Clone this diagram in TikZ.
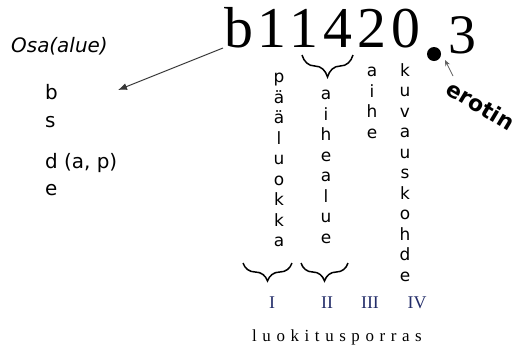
\documentclass[tikz,border=0pt]{standalone}
\usepackage{fontspec}
\setmainfont{Liberation Serif}
\setsansfont{DejaVu Sans}
\usetikzlibrary{arrows.meta,decorations.pathreplacing}
\definecolor{numblue}{RGB}{35,45,105}
\definecolor{arrowgray}{RGB}{55,55,55}
\tikzset{
  listtext/.style={font=\sffamily\fontsize{20}{24}\selectfont, inner sep=0pt, anchor=base west},
  vcol/.style={font=\sffamily\fontsize{17}{20.6}\selectfont, align=center, anchor=north, inner sep=0pt},
  bracestyle/.style={decorate, decoration={brace, amplitude=#1}, line width=1.5bp},
  roman/.style={font=\fontsize{18}{20}\selectfont, text=numblue, anchor=base, inner sep=0pt},
}
\begin{document}
\begin{tikzpicture}[x=1bp,y=-1bp]
\useasboundingbox (0,0) rectangle (516,346);
% main code
\node[anchor=base west, inner sep=0pt, font=\fontsize{58}{60}\selectfont\addfontfeature{LetterSpace=8.5}] (code) at (224,47) {b11420};
\node[circle, fill=black, inner sep=0pt, minimum size=14bp] (dot) at (434,54) {};
\node[anchor=base west, inner sep=0pt, font=\fontsize{56}{60}\selectfont] (three) at (448,53) {3};
% left column
\node[listtext, font=\sffamily\itshape\fontsize{20}{24}\selectfont] (osa) at (11,52) {Osa(alue)};
\node[listtext] (lb) at (45,99) {b};
\node[listtext] (ls) at (45,127) {s};
\node[listtext] (ld) at (45,168) {d (a, p)};
\node[listtext] (le) at (45,195) {e};
% arrow
\coordinate (tipL) at (118,90);
\draw[arrowgray, line width=1bp, -{Latex[length=9bp,width=7bp]}] ([shift={(-1,1)}]code.base west) -- (tipL);
% erotin
\node[anchor=west, rotate=-31, inner sep=0pt, font=\sffamily\bfseries\fontsize{22}{24}\selectfont] (erotin) at (449,86) {erotin};
\coordinate (erstart) at (453,76);
\coordinate (ertip) at (445,60);
\draw[arrowgray!80, line width=0.8bp, -{Stealth[length=6bp,width=5bp]}] (erstart) -- (ertip);
% vertical words
\node[vcol] (c1) at (279,73) {p\\ä\\ä\\l\\u\\o\\k\\k\\a};
\node[vcol] (c2) at (326,90) {a\\i\\h\\e\\a\\l\\u\\e};
\node[vcol] (c3) at (372,67) {a\\i\\h\\e};
\node[vcol] (c4) at (405,63) {k\\u\\v\\a\\u\\s\\k\\o\\h\\d\\e};
% braces
\draw[bracestyle=22bp] (353,55) -- (302,55);
\draw[bracestyle=18bp] (292,263) -- (243,263);
\draw[bracestyle=18bp] (348,263) -- (301,263);
% roman numerals
\node[roman] (r1) at (272,308) {I};
\node[roman] (r2) at (327,308) {II};
\node[roman] (r3) at (370,308) {III};
\node[roman] (r4) at (417,308) {IV};
% bottom label
\node[anchor=base west, inner sep=0pt, font=\fontsize{17}{20}\selectfont\addfontfeature{LetterSpace=33}] (lk) at (252,341) {luokitusporras};
\end{tikzpicture}
\end{document}
